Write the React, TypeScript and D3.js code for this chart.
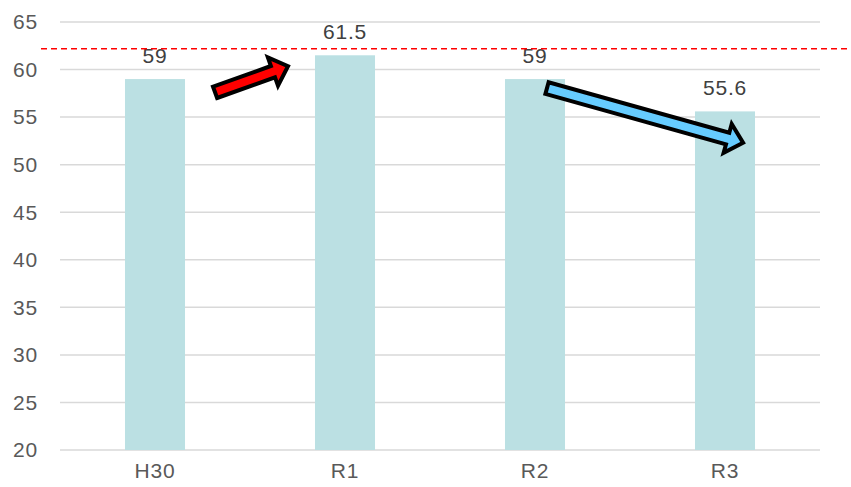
import React from "react";
import * as d3 from "d3";

const categories = ["H30", "R1", "R2", "R3"];
const values = [59, 61.5, 59, 55.6];
const valueLabels = ["59", "61.5", "59", "55.6"];
const yTicks = [20, 25, 30, 35, 40, 45, 50, 55, 60, 65];
const referenceValue = 62.2;
// arrows: [startPos, startValue, endPos, endValue] in category-position units
const arrowUp = [0.816, 57.6, 1.2, 60.35];
const arrowDown = [2.563, 58.05, 3.595, 52.3];

const W = 851;
const H = 487;
const left = 60;
const right = 820;
const top = 22;
const bottom = 450;

function arrowPath(x1: number, y1: number, x2: number, y2: number) {
  const dx = x2 - x1;
  const dy = y2 - y1;
  const len = Math.hypot(dx, dy);
  const ux = dx / len;
  const uy = dy / len;
  const px = -uy;
  const py = ux;
  const sw = 6;
  const hw = 15;
  const hl = 16;
  const bx = x2 - ux * hl;
  const by = y2 - uy * hl;
  const pts = [
    [x1 + px * sw, y1 + py * sw],
    [bx + px * sw, by + py * sw],
    [bx + px * hw, by + py * hw],
    [x2, y2],
    [bx - px * hw, by - py * hw],
    [bx - px * sw, by - py * sw],
    [x1 - px * sw, y1 - py * sw],
  ];
  return "M" + pts.map((p) => p[0].toFixed(1) + "," + p[1].toFixed(1)).join("L") + "Z";
}

export default function App() {
  const x = d3.scaleBand<string>().domain(categories).range([left, right]).paddingInner(0.684).paddingOuter(0.342);
  const pos = d3.scaleLinear().domain([0, categories.length]).range([left, right]);
  const y = d3.scaleLinear().domain([20, 65]).range([bottom, top]);
  const font = "Arial, 'Liberation Sans', sans-serif";

  const a1 = arrowPath(pos(arrowUp[0]), y(arrowUp[1]), pos(arrowUp[2]), y(arrowUp[3]));
  const a2 = arrowPath(pos(arrowDown[0]), y(arrowDown[1]), pos(arrowDown[2]), y(arrowDown[3]));

  return (
    <svg width={W} height={H} style={{ position: "absolute", left: 0, top: 0, background: "#fff" }}>
      {yTicks.map((t) => (
        <g key={t}>
          <line x1={left} x2={right} y1={y(t)} y2={y(t)} stroke="#D9D9D9" strokeWidth={1.5} />
          <text x={38} y={y(t)} dy="0.35em" textAnchor="end" fontFamily={font} fontSize={21} letterSpacing={0.8} fill="#595959">
            {t}
          </text>
        </g>
      ))}
      {categories.map((c, i) => (
        <g key={c}>
          <rect x={x(c)} y={y(values[i])} width={x.bandwidth()} height={y(20) - y(values[i])} fill="#BBE0E3" />
          <text x={x(c)! + x.bandwidth() / 2} y={y(values[i]) - 16} textAnchor="middle" fontFamily={font} fontSize={21} letterSpacing={0.8} fill="#404040">
            {valueLabels[i]}
          </text>
          <text x={x(c)! + x.bandwidth() / 2} y={478} textAnchor="middle" fontFamily={font} fontSize={21} letterSpacing={0.8} fill="#595959">
            {c}
          </text>
        </g>
      ))}
      <line x1={41} x2={W} y1={y(referenceValue)} y2={y(referenceValue)} stroke="#FF0000" strokeWidth={1.5} strokeDasharray="6,4" />
      <path d={a1} fill="#FF0000" stroke="#000" strokeWidth={4} strokeLinejoin="miter" />
      <path d={a2} fill="#66CCFF" stroke="#000" strokeWidth={4} strokeLinejoin="miter" />
    </svg>
  );
}
